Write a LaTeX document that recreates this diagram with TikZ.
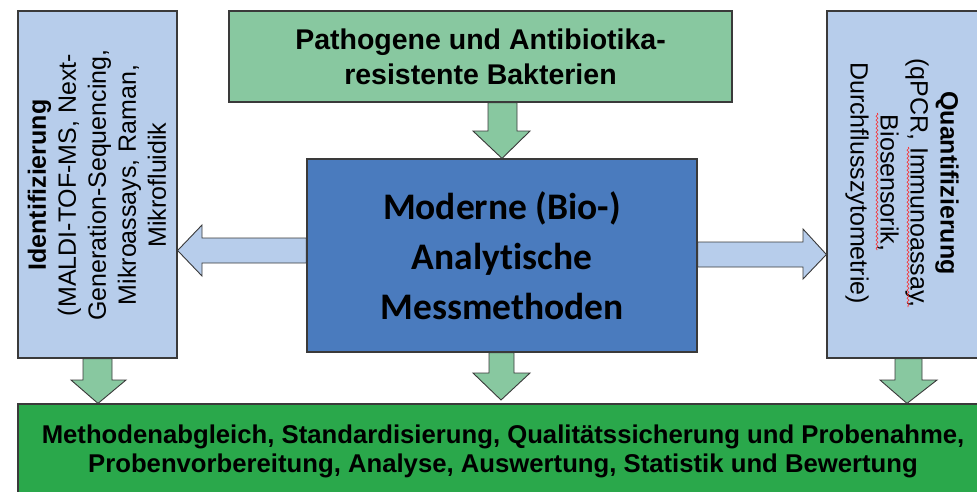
\documentclass[tikz,border=0pt]{standalone}
\usepackage{fontspec}
\setmainfont{Liberation Sans}
\newfontfamily\calfont[Ligatures=NoCommon]{Carlito}
\usetikzlibrary{calc,decorations.pathmorphing}
\definecolor{lblue}{HTML}{B7CDEB}
\definecolor{tgreen}{HTML}{88C8A0}
\definecolor{cblue}{HTML}{4A7BBE}
\definecolor{bgreen}{HTML}{2AA84B}
\definecolor{edgec}{HTML}{3A3A3A}
\begin{document}
\begin{tikzpicture}[x=1pt,y=-1pt,
  box/.style={draw=edgec, line width=1.2pt, inner sep=0pt},
  barrow/.style={draw=edgec, line width=0.9pt, line join=miter},
  wavy/.style={draw=red!85, line width=0.6pt, decorate, decoration={snake, amplitude=1pt, segment length=4pt}}]
\useasboundingbox (0,0) rectangle (977,491);
\begin{scope}
\clip (0,0) rectangle (977,491);
\node[box, fill=tgreen, minimum width=503pt, minimum height=91pt, align=center,
  font=\bfseries\fontsize{28.5}{35}\selectfont] (T) at (480.5,56.5)
  {Pathogene und Antibiotika-\\resistente Bakterien};
\node[box, fill=cblue, minimum width=390pt, minimum height=193pt, align=center,
  font=\calfont\bfseries\fontsize{37.5}{50}\selectfont] (C) at (502,255.5)
  {Moderne (Bio-)\\Analytische\\Messmethoden};
\node[box, fill=lblue, minimum width=159pt, minimum height=347pt] (L) at (97.5,184.5) {};
\node[box, fill=lblue, minimum width=159pt, minimum height=347pt] (R) at (906.5,184.5) {};
\node[box, fill=bgreen, minimum width=970pt, minimum height=94pt, align=center,
  font=\bfseries\fontsize{25.7}{29}\selectfont] (B) at (503,451)
  {Methodenabgleich, Standardisierung, Qualitätssicherung und Probenahme,\\Probenvorbereitung, Analyse, Auswertung, Statistik und Bewertung};
\node[rotate=90, align=center, font=\fontsize{25}{30}\selectfont] (LT) at (97,185)
  {\textbf{Identifizierung}\\(MALDI-TOF-MS, Next-\\Generation-Sequencing,\\Mikroassays, Raman,\\Mikrofluidik};
\node[rotate=-90, align=center, font=\fontsize{25}{30}\selectfont] (RT) at (902,183)
  {\textbf{Quantifizierung}\\(qPCR, Immunoassay,\\Biosensorik,\\Durchflusszytometrie)};
\draw[wavy] (908,147) -- (908,307);
\draw[wavy] (877,113) -- (877,250);
% side arrows
\draw[barrow, fill=lblue] (C.west |- 0,238) -- (202,238) -- (202,225) -- (L.east |- 0,250.5)
  -- (202,276) -- (202,263) -- (C.west |- 0,263) -- cycle;
\draw[barrow, fill=lblue] (C.east |- 0,242) -- (803,242) -- (803,229) -- (R.west |- 0,254.5)
  -- (803,279) -- (803,267) -- (C.east |- 0,267) -- cycle;
% top arrow
\draw[barrow, fill=tgreen] (488,0 |- T.south) -- (488,131) -- (473,131) -- (502,0 |- C.north)
  -- (530,131) -- (517,131) -- (517,0 |- T.south) -- cycle;
% bottom arrows
\draw[barrow, fill=tgreen] (83,0 |- L.south) -- (83,380) -- (71,380) -- (98,0 |- B.north)
  -- (126,380) -- (112,380) -- (112,0 |- L.south) -- cycle;
\draw[barrow, fill=tgreen] (489,0 |- C.south) -- (489,373) -- (473,373) -- (501,400)
  -- (530,373) -- (514,373) -- (514,0 |- C.south) -- cycle;
\draw[barrow, fill=tgreen] (895,0 |- R.south) -- (895,380) -- (880,380) -- (907,0 |- B.north)
  -- (937,380) -- (922,380) -- (922,0 |- R.south) -- cycle;
\end{scope}
\end{tikzpicture}
\end{document}
